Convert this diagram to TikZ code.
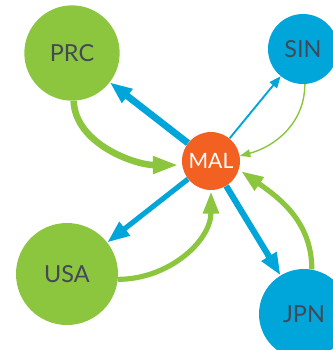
\documentclass[tikz,border=0pt]{standalone}
\usepackage{fontspec}
\setmainfont{Lato}
\usepackage{tikz}
\usetikzlibrary{arrows.meta}
\definecolor{tradegreen}{HTML}{8CC63F}
\definecolor{tradeblue}{HTML}{00A6DA}
\definecolor{tradeorange}{HTML}{F26122}
\definecolor{labelgrey}{HTML}{434856}

\begin{document}
\begin{tikzpicture}[
    x=0.03cm, y=-0.03cm,
    country/.style={circle, inner sep=0pt, text=labelgrey, font=\fontsize{20}{20}\selectfont},
    exp/.style={draw=tradeblue, -{Triangle[length=19pt, width=14pt]}, line width=5.2pt},
    expthin/.style={draw=tradeblue, -{Triangle[length=10pt, width=8pt]}, line width=1.6pt},
    imp/.style={draw=tradegreen, -{Triangle[length=22pt, width=14pt]}, line width=5.6pt},
    impthin/.style={draw=tradegreen, -{Triangle[length=9pt, width=6.5pt]}, line width=1.2pt}
]
    \useasboundingbox (0,0) rectangle (333,350);
    \node[country, fill=tradegreen, minimum size=2.86cm] (prc) at (72,53) {PRC};
    \node[country, fill=tradeblue, minimum size=2.1cm] (sin) at (303,49) {SIN};
    \node[country, fill=tradegreen, minimum size=3.06cm] (usa) at (67,274) {USA};
    \node[country, fill=tradeblue, minimum size=2.7cm] (jpn) at (304,314) {JPN};
    \node[circle, fill=tradeorange, minimum size=1.74cm, inner sep=0pt, text=white,
          font=\fontsize{18}{18}\selectfont] (mal) at (211,161) {MAL};
    % exports from MAL
    \draw[exp, line width=5.8pt] (mal) -- (prc);
    \draw[expthin] (mal) -- (sin);
    \draw[exp, line width=4.4pt] (mal) -- (usa);
    \draw[exp] (mal) -- (jpn);
    % imports into MAL
    \draw[imp] (prc.-88) to[out=-88, in=180, looseness=0.9] ([xshift=-3pt]mal.188);
    \draw[impthin] (sin.-87) to[out=-90, in=15] (mal.10);
    \draw[imp, line width=4.4pt, -{Triangle[length=19pt, width=13pt]}] (jpn.80) to[out=90, in=-35] ([shift={(2pt,-1pt)}]mal.-18);
    \draw[imp, line width=4.4pt, -{Triangle[length=19pt, width=13pt]}] (usa.-6) to[out=0, in=-90] ([yshift=-1pt]mal.-90);
\end{tikzpicture}
\end{document}
